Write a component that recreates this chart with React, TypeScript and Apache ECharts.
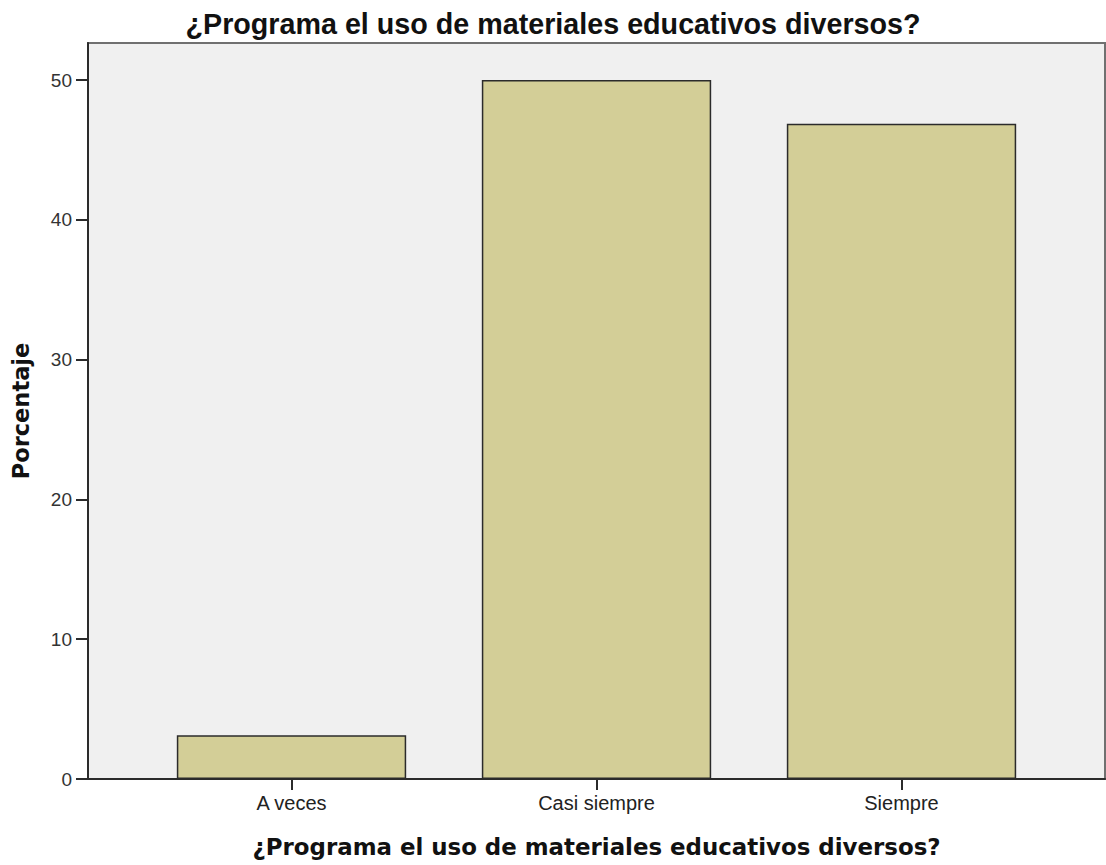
import React, { useEffect, useRef } from "react";
import * as echarts from "echarts";

const titleText = "¿Programa el uso de materiales educativos diversos?";
const categories = ["A veces", "Casi siempre", "Siempre"];
const percentages = [3.125, 50, 46.875];
const yTicks = [0, 10, 20, 30, 40, 50];
const yName = "Porcentaje";

export default function App() {
  const ref = useRef<HTMLDivElement>(null);
  useEffect(() => {
    if (!ref.current) return;
    const chart = echarts.init(ref.current, null, { renderer: "svg" });
    const yMax = 52.65;
    chart.setOption({
      animation: false,
      backgroundColor: "#ffffff",
      title: {
        text: titleText,
        left: "center",
        top: 4,
        textStyle: {
          fontFamily: "Liberation Sans, Arial, sans-serif",
          fontWeight: "bold",
          fontSize: 28.7,
          color: "#111",
        },
      },
      grid: [
        {
          left: 88,
          right: 1,
          top: 43,
          bottom: 86,
          show: true,
          backgroundColor: "#f0f0f0",
          borderColor: "#707070",
          borderWidth: 2,
        },
        {
          left: 139,
          right: 52,
          top: 43,
          bottom: 86,
        },
      ],
      xAxis: [
        {
          gridIndex: 0,
          type: "value",
          min: 0,
          max: 1,
          axisLine: { show: true, lineStyle: { color: "#2b2b2b", width: 2 } },
          axisTick: { show: false },
          axisLabel: { show: false },
          splitLine: { show: false },
        },
        {
          gridIndex: 1,
          type: "category",
          data: categories,
          axisLine: { show: false },
          axisTick: {
            show: true,
            alignWithLabel: true,
            length: 11,
            lineStyle: { color: "#2b2b2b", width: 2 },
          },
          axisLabel: {
            fontFamily: "Liberation Sans, Arial, sans-serif",
            fontSize: 20,
            color: "#222",
            margin: 14,
          },
          name: titleText,
          nameLocation: "middle",
          nameGap: 56,
          nameTextStyle: {
            fontFamily: "DejaVu Sans, sans-serif",
            fontWeight: "bold",
            fontSize: 22.9,
            color: "#111",
          },
        },
      ],
      yAxis: [
        {
          gridIndex: 0,
          type: "value",
          min: 0,
          max: yMax,
          axisLine: { show: true, lineStyle: { color: "#2b2b2b", width: 2 } },
          axisTick: {
            show: true,
            length: 12,
            customValues: yTicks,
            lineStyle: { color: "#2b2b2b", width: 2 },
          },
          axisLabel: {
            customValues: yTicks,
            fontFamily: "Liberation Sans, Arial, sans-serif",
            fontSize: 19,
            color: "#333",
            margin: 16,
          },
          splitLine: { show: false },
          name: yName,
          nameLocation: "middle",
          nameGap: 56,
          nameTextStyle: {
            fontFamily: "DejaVu Sans, sans-serif",
            fontWeight: "bold",
            fontSize: 22.5,
            color: "#111",
          },
        },
        {
          gridIndex: 1,
          type: "value",
          min: 0,
          max: yMax,
          show: false,
        },
      ],
      series: [
        {
          type: "bar",
          xAxisIndex: 1,
          yAxisIndex: 1,
          data: percentages,
          barWidth: "75.2%",
          itemStyle: {
            color: "#d3ce97",
            borderColor: "#2b2b2b",
            borderWidth: 1.5,
          },
        },
      ],
    });
    return () => chart.dispose();
  }, []);
  return (
    <div
      ref={ref}
      style={{ position: "fixed", left: 0, top: 0, width: 1106, height: 865 }}
    />
  );
}
